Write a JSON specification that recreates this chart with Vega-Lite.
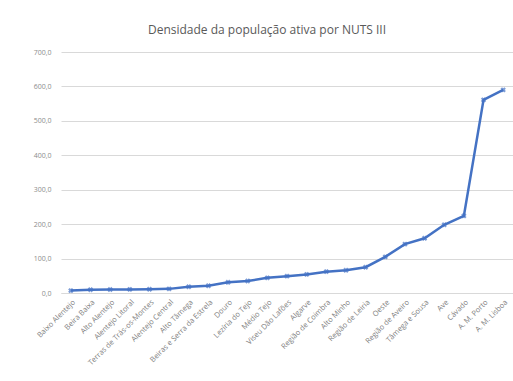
{
  "$schema": "https://vega.github.io/schema/vega-lite/v6.json",
  "autosize": {"type": "none"},
  "width": 452,
  "height": 241,
  "padding": {"left": 61, "top": 52, "right": 0, "bottom": 88},
  "background": "white",
  "config": {"view": {"stroke": null}, "font": "Open Sans"},
  "title": {
    "text": "Densidade da população ativa por NUTS III",
    "fontSize": 12,
    "fontWeight": "normal",
    "color": "#595959",
    "font": "Open Sans",
    "anchor": "middle",
    "dx": -20,
    "offset": 11
  },
  "data": {
    "values": [
      {"nuts": "Baixo Alentejo", "densidade": 7},
      {"nuts": "Beira Baixa", "densidade": 9.6},
      {"nuts": "Alto Alentejo", "densidade": 10},
      {"nuts": "Alentejo Litoral", "densidade": 10.5},
      {"nuts": "Terras de Trás-os-Montes", "densidade": 11},
      {"nuts": "Alentejo Central", "densidade": 12},
      {"nuts": "Alto Tâmega", "densidade": 18},
      {"nuts": "Beiras e Serra da Estrela", "densidade": 21},
      {"nuts": "Douro", "densidade": 31},
      {"nuts": "Lezíria do Tejo", "densidade": 35},
      {"nuts": "Médio Tejo", "densidade": 44},
      {"nuts": "Viseu Dão Lafões", "densidade": 49},
      {"nuts": "Algarve", "densidade": 54},
      {"nuts": "Região de Coimbra", "densidade": 62},
      {"nuts": "Alto Minho", "densidade": 66},
      {"nuts": "Região de Leiria", "densidade": 75},
      {"nuts": "Oeste", "densidade": 105},
      {"nuts": "Região de Aveiro", "densidade": 142},
      {"nuts": "Tâmega e Sousa", "densidade": 159},
      {"nuts": "Ave", "densidade": 198},
      {"nuts": "Cávado", "densidade": 224},
      {"nuts": "A. M. Porto", "densidade": 561},
      {"nuts": "A. M. Lisboa", "densidade": 590}
    ]
  },
  "encoding": {
    "x": {
      "field": "nuts",
      "type": "nominal",
      "sort": null,
      "scale": {"type": "point", "padding": 0.5},
      "axis": {
        "title": null,
        "labelAngle": -45,
        "labelAlign": "right",
        "labelBaseline": "top",
        "labelFontSize": 7.5,
        "labelColor": "#7f7f7f",
        "labelPadding": 5,
        "ticks": false,
        "domainColor": "#d9d9d9",
        "labelOverlap": false
      }
    },
    "y": {
      "field": "densidade",
      "type": "quantitative",
      "scale": {"domain": [0, 700], "nice": false},
      "axis": {
        "title": null,
        "values": [0, 100, 200, 300, 400, 500, 600, 700],
        "labelExpr": "replace(format(datum.value, '.1f'), '.', ',')",
        "labelFontSize": 7,
        "labelColor": "#8c8c8c",
        "labelPadding": 10,
        "ticks": false,
        "domain": false,
        "gridColor": "#d9d9d9",
        "gridWidth": 1
      }
    }
  },
  "layer": [
    {"mark": {"type": "line", "color": "#4472C4", "strokeWidth": 2.5}},
    {"mark": {"type": "point", "shape": "cross", "angle": 45, "filled": true, "color": "#4472C4", "size": 30}}
  ]
}
